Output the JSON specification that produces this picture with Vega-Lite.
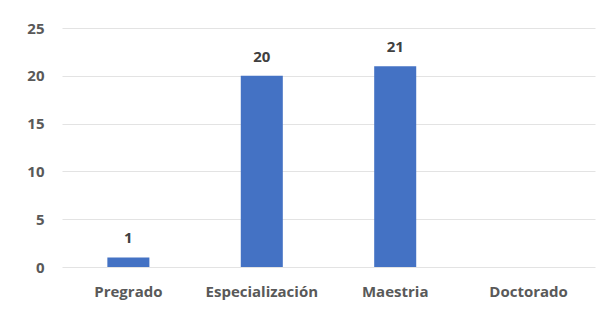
{
  "$schema": "https://vega.github.io/schema/vega-lite/v6.json",
  "autosize": "none",
  "width": 533,
  "height": 239,
  "padding": {"left": 62, "top": 28, "right": 11, "bottom": 46},
  "background": "white",
  "config": {"view": {"stroke": null}, "font": "Open Sans"},
  "data": {"values": [
    {"nivel": "Pregrado", "value": 1},
    {"nivel": "Especialización", "value": 20},
    {"nivel": "Maestria", "value": 21},
    {"nivel": "Doctorado", "value": 0}
  ]},
  "encoding": {
    "x": {"field": "nivel", "type": "nominal", "sort": null,
      "scale": {"paddingInner": 0.685, "paddingOuter": 0.34},
      "axis": {"title": null, "labelAngle": 0, "ticks": false, "domain": false,
        "labelFont": "Open Sans", "labelFontSize": 15, "labelFontWeight": "bold",
        "labelColor": "#595959", "labelPadding": 17}},
    "y": {"field": "value", "type": "quantitative",
      "scale": {"domain": [0, 25]},
      "axis": {"title": null, "values": [0, 5, 10, 15, 20, 25], "ticks": false, "domain": false,
        "gridColor": "#e3e3e3", "gridWidth": 1,
        "labelFont": "Open Sans", "labelFontSize": 15, "labelFontWeight": "bold",
        "labelColor": "#595959", "labelPadding": 18}}
  },
  "layer": [
    {"mark": {"type": "bar", "color": "#4472C4"}},
    {"transform": [{"filter": "datum.value > 0"}],
     "mark": {"type": "text", "dy": -19, "fontSize": 15, "fontWeight": "bold", "color": "#404040", "font": "Open Sans"},
     "encoding": {"text": {"field": "value", "type": "quantitative"}}}
  ]
}
